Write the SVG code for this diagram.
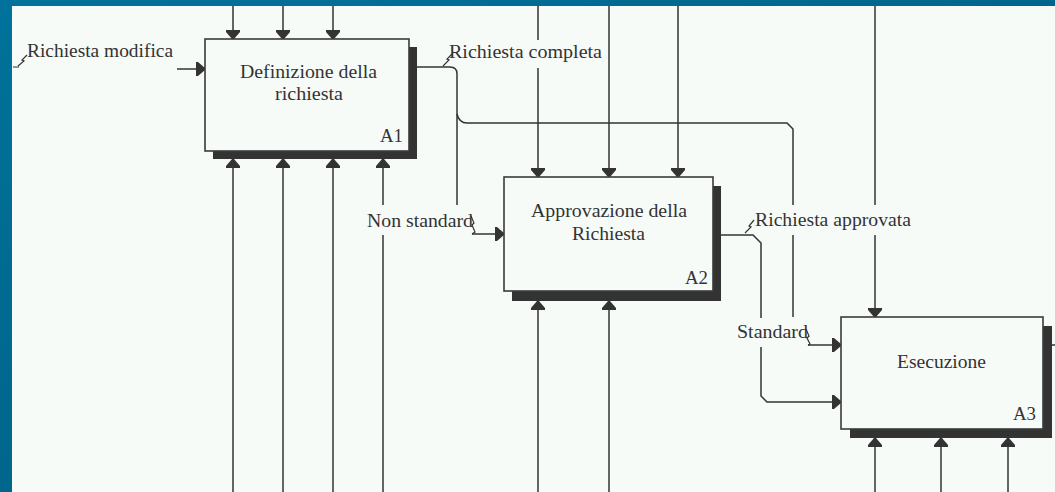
<svg xmlns="http://www.w3.org/2000/svg" width="1055" height="492" viewBox="0 0 1055 492">
<style>
.ln{fill:none;stroke:#333;stroke-width:1.5}
.box{fill:#f6fbf8;stroke:#3a3a3a;stroke-width:1.6}
.sh{fill:#333}
.t{font-family:"Liberation Serif","Times New Roman",serif;font-size:19px;fill:#333}
.sq{fill:none;stroke:#333;stroke-width:1.2}
</style>
<defs>
<linearGradient id="bg" x1="0" y1="0" x2="1" y2="1">
<stop offset="0" stop-color="#00729b"/>
<stop offset="1" stop-color="#005a7c"/>
</linearGradient>
<marker id="ah" markerUnits="userSpaceOnUse" viewBox="0 -8 10 16" refX="9" refY="0" markerWidth="10" markerHeight="16" orient="auto">
<path d="M0,-7 L2,-7 L9,-1 L9,1 L2,7 L0,7 Z" fill="#333"/>
</marker>
</defs>
<rect x="0" y="0" width="1055" height="492" fill="url(#bg)"/>
<rect x="12" y="6" width="1043" height="486" fill="#f6fbf8"/>

<g id="connectors">
<path class="ln" d="M233,6 V39" marker-end="url(#ah)"/>
<path class="ln" d="M283,6 V39" marker-end="url(#ah)"/>
<path class="ln" d="M333,6 V39" marker-end="url(#ah)"/>
<path class="ln" d="M233,492 V159" marker-end="url(#ah)"/>
<path class="ln" d="M283,492 V159" marker-end="url(#ah)"/>
<path class="ln" d="M333,492 V159" marker-end="url(#ah)"/>
<path class="ln" d="M383,492 V235"/>
<path class="ln" d="M383,205 V159" marker-end="url(#ah)"/>
<path class="ln" d="M538,6 V40"/>
<path class="ln" d="M538,68 V177" marker-end="url(#ah)"/>
<path class="ln" d="M609,6 V177" marker-end="url(#ah)"/>
<path class="ln" d="M678,6 V177" marker-end="url(#ah)"/>
<path class="ln" d="M538,492 V301" marker-end="url(#ah)"/>
<path class="ln" d="M609,492 V301" marker-end="url(#ah)"/>
<path class="ln" d="M875,6 V205"/>
<path class="ln" d="M875,235 V317" marker-end="url(#ah)"/>
<path class="ln" d="M875,492 V438" marker-end="url(#ah)"/>
<path class="ln" d="M941,492 V438" marker-end="url(#ah)"/>
<path class="ln" d="M1008,492 V438" marker-end="url(#ah)"/>
<path class="ln" d="M177,69 H205" marker-end="url(#ah)"/>
<path class="ln" d="M417,67 H450 Q457,67 457,74 V205"/>
<path class="ln" d="M472,234 H504" marker-end="url(#ah)"/>
<path class="ln" d="M457,114 Q459,123 467,123 H787 L793,129 V205"/>
<path class="ln" d="M793,235 V317"/>
<path class="ln" d="M808,345 H841" marker-end="url(#ah)"/>
<path class="ln" d="M721,235 H753 L761,243 V318"/>
<path class="ln" d="M761,347 V396 L767,402 H841" marker-end="url(#ah)"/>
<path class="ln" d="M1052,345 H1055"/>
<path class="sq" d="M27,55 L22,60 L24,61 L18,66 M13,67 H19"/>
<path class="sq" d="M452,54 L447,59 L449,60 L443,66"/>
<path class="sq" d="M471,216 L474,223 L472,225 L475,232 L472,234"/>
<path class="sq" d="M754,220 L749,226 L751,227 L745,233"/>
<path class="sq" d="M806,329 L809,336 L807,338 L810,344 L808,345"/>
</g>

<g id="labels">
<text class="t" x="27" y="57" textLength="146" lengthAdjust="spacingAndGlyphs">Richiesta modifica</text>
<text class="t" x="449" y="58" textLength="153" lengthAdjust="spacingAndGlyphs">Richiesta completa</text>
<text class="t" x="367" y="227" textLength="106" lengthAdjust="spacingAndGlyphs">Non standard</text>
<text class="t" x="755" y="226" textLength="156" lengthAdjust="spacingAndGlyphs">Richiesta approvata</text>
<text class="t" x="737" y="338" textLength="71" lengthAdjust="spacingAndGlyphs">Standard</text>
</g>

<g id="A1">
<rect class="sh" x="213" y="47" width="204" height="112"/>
<rect class="box" x="205" y="39" width="204" height="112"/>
<text class="t" x="240" y="78" textLength="137" lengthAdjust="spacingAndGlyphs">Definizione della</text>
<text class="t" x="275" y="100" textLength="68" lengthAdjust="spacingAndGlyphs">richiesta</text>
<text class="t" x="380" y="142" textLength="23" lengthAdjust="spacingAndGlyphs">A1</text>
</g>

<g id="A2">
<rect class="sh" x="512" y="186" width="209" height="115"/>
<rect class="box" x="504" y="177" width="209" height="114"/>
<text class="t" x="531" y="217" textLength="156" lengthAdjust="spacingAndGlyphs">Approvazione della</text>
<text class="t" x="572" y="240" textLength="73" lengthAdjust="spacingAndGlyphs">Richiesta</text>
<text class="t" x="685" y="284" textLength="23" lengthAdjust="spacingAndGlyphs">A2</text>
</g>

<g id="A3">
<rect class="sh" x="850" y="326" width="202" height="112"/>
<rect class="box" x="841" y="317" width="202" height="112"/>
<text class="t" x="897" y="368" textLength="89" lengthAdjust="spacingAndGlyphs">Esecuzione</text>
<text class="t" x="1013" y="420" textLength="23" lengthAdjust="spacingAndGlyphs">A3</text>
</g>
</svg>
